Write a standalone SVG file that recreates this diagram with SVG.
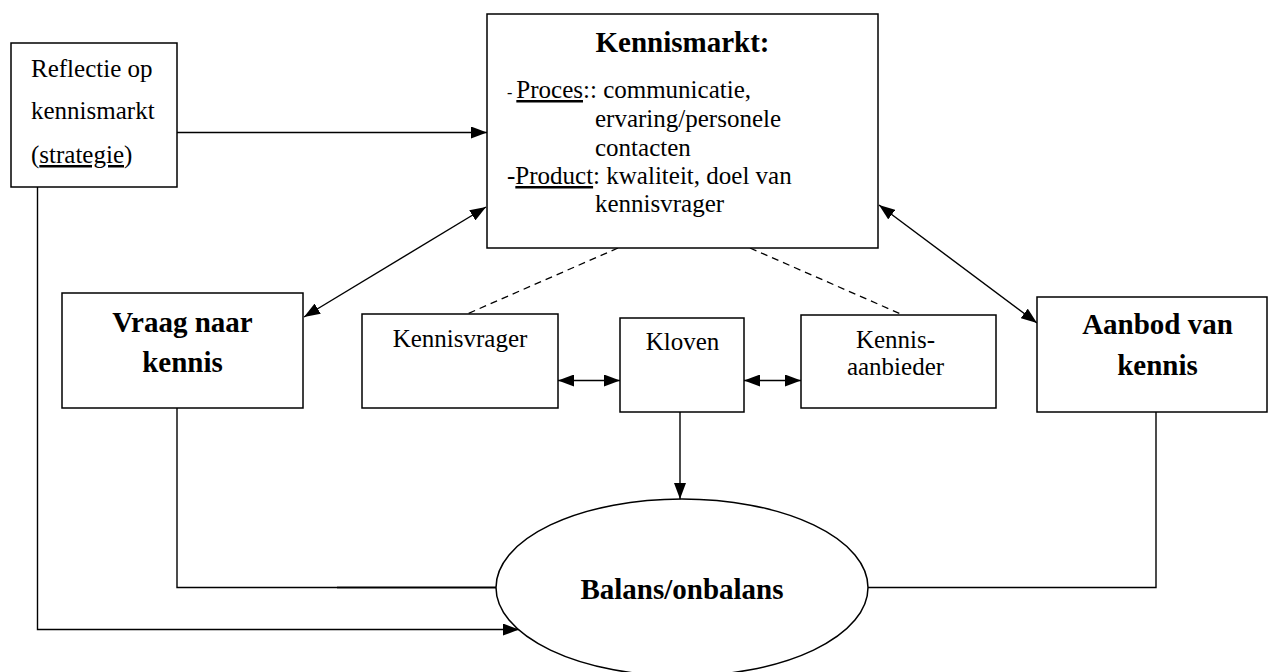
<svg xmlns="http://www.w3.org/2000/svg" width="1270" height="672" viewBox="0 0 1270 672">
  <style>
    .box { fill: #ffffff; stroke: #000000; stroke-width: 1.5; }
    .ln { fill: none; stroke: #000000; stroke-width: 1.4; }
    .dash { fill: none; stroke: #000000; stroke-width: 1.3; stroke-dasharray: 7 5; }
    .t { font-family: "Liberation Serif", "Times New Roman", serif; font-size: 25px; fill: #000000; }
    .b { font-family: "Liberation Serif", "Times New Roman", serif; font-size: 29px; font-weight: bold; fill: #000000; text-anchor: middle; }
    .c { text-anchor: middle; }
    .u { text-decoration: underline; }
  </style>
  <defs>
    <marker id="ah" viewBox="0 0 16 12" refX="16" refY="6" markerWidth="16" markerHeight="12" markerUnits="userSpaceOnUse" orient="auto-start-reverse">
      <path d="M0,0 L16,6 L0,12 z" fill="#000000"/>
    </marker>
  </defs>
  <rect width="1270" height="672" fill="#ffffff"/>

  <!-- connectors -->
  <g id="connectors">
    <line class="ln" x1="177" y1="132.5" x2="487" y2="132.5" marker-end="url(#ah)"/>
    <line class="ln" x1="486" y1="207" x2="304" y2="317" marker-start="url(#ah)" marker-end="url(#ah)"/>
    <line class="ln" x1="879" y1="205" x2="1037" y2="323" marker-start="url(#ah)" marker-end="url(#ah)"/>
    <line class="dash" x1="618" y1="248" x2="467" y2="314"/>
    <line class="dash" x1="750" y1="248" x2="903" y2="315"/>
    <line class="ln" x1="558" y1="380.5" x2="620" y2="380.5" marker-start="url(#ah)" marker-end="url(#ah)"/>
    <line class="ln" x1="744" y1="380.5" x2="801" y2="380.5" marker-start="url(#ah)" marker-end="url(#ah)"/>
    <line class="ln" x1="680" y1="412" x2="680" y2="499" marker-end="url(#ah)"/>
    <polyline class="ln" points="177,408 177,587.5 337,587.5"/>
    <line x1="337" y1="587.5" x2="496" y2="587.5" stroke="#000000" stroke-width="1.8"/>
    <polyline class="ln" points="1156,412 1156,587.5 868,587.5"/>
    <polyline class="ln" points="37.5,187 37.5,629.5 519,629.5" marker-end="url(#ah)"/>
  </g>

  <!-- strategy reflection -->
  <g id="reflectie">
    <rect class="box" x="11" y="43" width="166" height="144"/>
    <text class="t" x="31" y="77">Reflectie op</text>
    <text class="t" x="31" y="119">kennismarkt</text>
    <text class="t" x="31" y="163">(<tspan class="u">strategie</tspan>)</text>
  </g>

  <!-- knowledge market -->
  <g id="kennismarkt">
    <rect class="box" x="487" y="14" width="391" height="234"/>
    <text class="b" x="682.5" y="52">Kennismarkt:</text>
    <text class="t" x="507" y="98"><tspan font-size="16">- </tspan><tspan class="u">Proces</tspan>:: communicatie,</text>
    <text class="t" x="595" y="127">ervaring/personele</text>
    <text class="t" x="595" y="156">contacten</text>
    <text class="t" x="507" y="184">-<tspan class="u">Product</tspan>: kwaliteit, doel van</text>
    <text class="t" x="595" y="212">kennisvrager</text>
  </g>

  <g id="vraag">
    <rect class="box" x="62" y="293" width="241" height="115"/>
    <text class="b" x="182.5" y="332">Vraag naar</text>
    <text class="b" x="182.5" y="372">kennis</text>
  </g>

  <g id="kennisvrager">
    <rect class="box" x="362" y="314" width="196" height="94"/>
    <text class="t c" x="460" y="347">Kennisvrager</text>
  </g>

  <g id="kloven">
    <rect class="box" x="620" y="318" width="124" height="94"/>
    <text class="t c" x="682.5" y="350">Kloven</text>
  </g>

  <g id="kennisaanbieder">
    <rect class="box" x="801" y="315" width="195" height="93"/>
    <text class="t c" x="895.5" y="348">Kennis-</text>
    <text class="t c" x="895.5" y="375">aanbieder</text>
  </g>

  <g id="aanbod">
    <rect class="box" x="1037" y="297" width="230" height="115"/>
    <text class="b" x="1157.5" y="334">Aanbod van</text>
    <text class="b" x="1157.5" y="375">kennis</text>
  </g>

  <g id="balans">
    <ellipse class="box" cx="682" cy="587.5" rx="186" ry="88.5"/>
    <text class="b" x="682" y="599">Balans/onbalans</text>
  </g>
</svg>
